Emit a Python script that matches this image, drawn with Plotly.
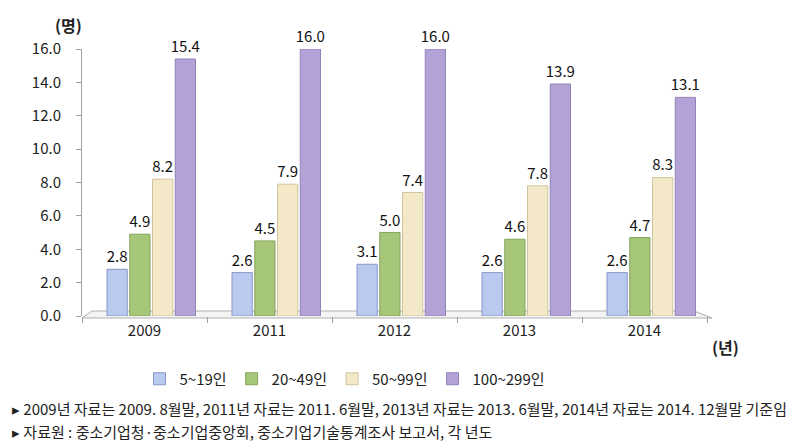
import plotly.graph_objects as go

years = ["2009", "2011", "2012", "2013", "2014"]
series_names = ["5~19인", "20~49인", "50~99인", "100~299인"]
v_5_19 = [2.8, 2.6, 3.1, 2.6, 2.6]
v_20_49 = [4.9, 4.5, 5.0, 4.6, 4.7]
v_50_99 = [8.2, 7.9, 7.4, 7.8, 8.3]
v_100_299 = [15.4, 16.0, 16.0, 13.9, 13.1]
y_ticks = [0, 2, 4, 6, 8, 10, 12, 14, 16]

colors = ["#b9c9ef", "#a6c67a", "#f3e9c8", "#b3a2d6"]
edge = ["#8797c8", "#87a45d", "#d0c49d", "#9282b8"]
offsets = [-0.30, -0.118, 0.064, 0.246]
FONT = "Noto Sans CJK KR"

fig = go.Figure()
for name, vals, c, e, off in zip(series_names, [v_5_19, v_20_49, v_50_99, v_100_299], colors, edge, offsets):
    fig.add_trace(go.Bar(
        x=years, y=vals, name=name, width=0.162, offset=off,
        marker=dict(color=c, line=dict(color=e, width=1)),
        text=[f"{v:.1f}" for v in vals], textposition="outside", constraintext="none",
        textfont=dict(size=15, color="#111", family=FONT),
        cliponaxis=False,
    ))

W, H = 809, 446
L, R, T, B = 82, 707, 49, 316
pw, ph = R - L, B - T
def px(x): return (x - L) / pw
def py(y): return (B - y) / ph

shapes = [
    dict(type="path", xref="paper", yref="paper",
         path=f"M {px(82)} {py(318)} L {px(712)} {py(318)} L {px(694)} {py(311)} L {px(92)} {py(311)} Z",
         fillcolor="#f4f4f4", line=dict(color="#b0b0b0", width=1), layer="below"),
]

annotations = [
    dict(text="<b>(명)</b>", x=px(68), y=py(25), xref="paper", yref="paper", showarrow=False,
         xanchor="center", yanchor="middle", font=dict(size=16, family=FONT, color="#222")),
    dict(text="<b>(년)</b>", x=px(725), y=py(347), xref="paper", yref="paper", showarrow=False,
         xanchor="center", yanchor="middle", font=dict(size=16, family=FONT, color="#222")),
    dict(text="▸ 2009년 자료는 2009. 8월말, 2011년 자료는 2011. 6월말, 2013년 자료는 2013. 6월말, 2014년 자료는 2014. 12월말 기준임",
         x=px(10), y=py(408), xref="paper", yref="paper", xanchor="left", yanchor="middle", showarrow=False,
         font=dict(size=15, family=FONT, color="#222")),
    dict(text="▸ 자료원 : 중소기업청·중소기업중앙회, 중소기업기술통계조사 보고서, 각 년도",
         x=px(10), y=py(431), xref="paper", yref="paper", xanchor="left", yanchor="middle", showarrow=False,
         font=dict(size=15, family=FONT, color="#222")),
]

fig.update_layout(
    width=W, height=H, margin=dict(l=L, r=W - R, t=T, b=H - B),
    paper_bgcolor="white", plot_bgcolor="white",
    barmode="overlay",
    font=dict(family=FONT, size=14, color="#222"),
    showlegend=True,
    legend=dict(orientation="h", x=px(345), xanchor="center", y=py(379), yanchor="middle",
                font=dict(size=15, family=FONT), traceorder="normal", itemwidth=30),
    shapes=shapes, annotations=annotations,
)
fig.update_yaxes(range=[0, 16], tickvals=y_ticks, tickformat=".1f", showgrid=False,
                 showline=True, linecolor="#a0a0a0", ticks="outside", ticklen=5, tickcolor="#a0a0a0",
                 zeroline=False, tickfont=dict(size=15), ticklabelstandoff=12)
fig.update_xaxes(showgrid=False, showline=False, ticks="outside", tickson="boundaries",
                 ticklen=6, tickcolor="#a0a0a0", tickfont=dict(size=15), ticklabelstandoff=4)

fig.write_html("out.html")
